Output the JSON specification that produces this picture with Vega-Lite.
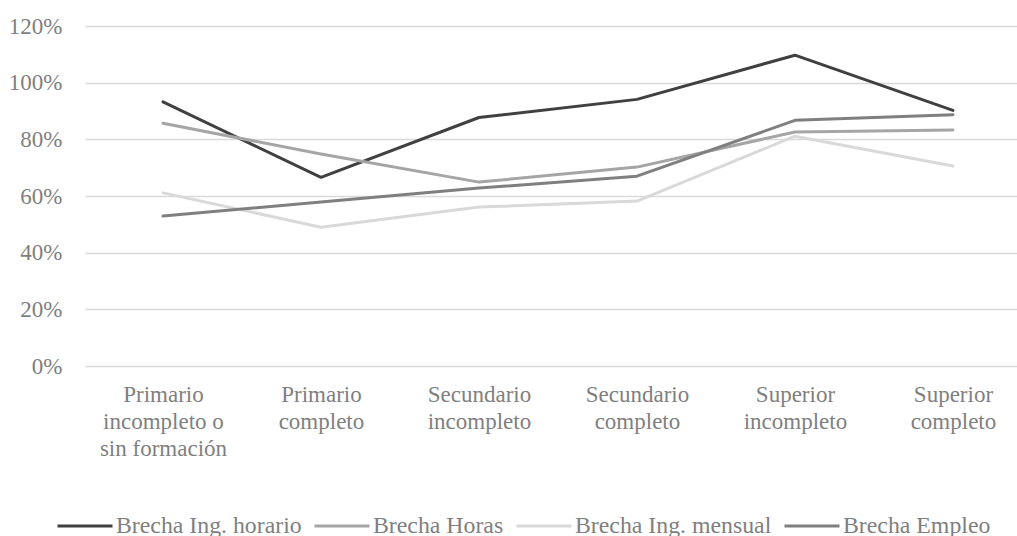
{
  "$schema": "https://vega.github.io/schema/vega-lite/v6.json",
  "width": 932,
  "height": 340,
  "autosize": {"type": "none"},
  "padding": {"left": 85, "top": 26, "right": 0, "bottom": 170},
  "background": "white",
  "config": {
    "view": {"stroke": null},
    "font": "Liberation Serif",
    "axis": {"labelFont": "Liberation Serif", "labelColor": "#7f7f7f", "labelFontSize": 23}
  },
  "data": {
    "values": [
      {"nivel": "Primario incompleto o sin formación", "serie": "Brecha Ing. horario", "valor": 0.932},
      {"nivel": "Primario completo", "serie": "Brecha Ing. horario", "valor": 0.666},
      {"nivel": "Secundario incompleto", "serie": "Brecha Ing. horario", "valor": 0.877},
      {"nivel": "Secundario completo", "serie": "Brecha Ing. horario", "valor": 0.941},
      {"nivel": "Superior incompleto", "serie": "Brecha Ing. horario", "valor": 1.097},
      {"nivel": "Superior completo", "serie": "Brecha Ing. horario", "valor": 0.902},
      {"nivel": "Primario incompleto o sin formación", "serie": "Brecha Horas", "valor": 0.857},
      {"nivel": "Primario completo", "serie": "Brecha Horas", "valor": 0.748},
      {"nivel": "Secundario incompleto", "serie": "Brecha Horas", "valor": 0.649},
      {"nivel": "Secundario completo", "serie": "Brecha Horas", "valor": 0.702},
      {"nivel": "Superior incompleto", "serie": "Brecha Horas", "valor": 0.826},
      {"nivel": "Superior completo", "serie": "Brecha Horas", "valor": 0.833},
      {"nivel": "Primario incompleto o sin formación", "serie": "Brecha Ing. mensual", "valor": 0.611},
      {"nivel": "Primario completo", "serie": "Brecha Ing. mensual", "valor": 0.490},
      {"nivel": "Secundario incompleto", "serie": "Brecha Ing. mensual", "valor": 0.561},
      {"nivel": "Secundario completo", "serie": "Brecha Ing. mensual", "valor": 0.582},
      {"nivel": "Superior incompleto", "serie": "Brecha Ing. mensual", "valor": 0.811},
      {"nivel": "Superior completo", "serie": "Brecha Ing. mensual", "valor": 0.706},
      {"nivel": "Primario incompleto o sin formación", "serie": "Brecha Empleo", "valor": 0.529},
      {"nivel": "Primario completo", "serie": "Brecha Empleo", "valor": 0.579},
      {"nivel": "Secundario incompleto", "serie": "Brecha Empleo", "valor": 0.628},
      {"nivel": "Secundario completo", "serie": "Brecha Empleo", "valor": 0.670},
      {"nivel": "Superior incompleto", "serie": "Brecha Empleo", "valor": 0.867},
      {"nivel": "Superior completo", "serie": "Brecha Empleo", "valor": 0.887}
    ]
  },
  "mark": {"type": "line", "strokeWidth": 3, "strokeCap": "round", "strokeJoin": "round"},
  "encoding": {
    "x": {
      "field": "nivel",
      "type": "nominal",
      "sort": null,
      "scale": {"type": "point", "padding": 0.4494, "align": 0.549},
      "axis": {
        "title": null,
        "domain": false,
        "ticks": false,
        "labelAngle": 0,
        "labelPadding": 17,
        "labelLineHeight": 27,
        "labelBaseline": "top",
        "labelExpr": "datum.label == 'Primario incompleto o sin formación' ? ['Primario', 'incompleto o', 'sin formación'] : split(datum.label, ' ')"
      }
    },
    "y": {
      "field": "valor",
      "type": "quantitative",
      "scale": {"domain": [0, 1.2], "nice": false},
      "axis": {
        "title": null,
        "format": ".0%",
        "values": [0, 0.2, 0.4, 0.6, 0.8, 1.0, 1.2],
        "domain": false,
        "ticks": false,
        "labelPadding": 23,
        "gridColor": "#d9d9d9",
        "gridWidth": 1.5
      }
    },
    "color": {
      "field": "serie",
      "type": "nominal",
      "sort": ["Brecha Ing. horario", "Brecha Horas", "Brecha Ing. mensual", "Brecha Empleo"],
      "scale": {
        "domain": ["Brecha Ing. horario", "Brecha Horas", "Brecha Ing. mensual", "Brecha Empleo"],
        "range": ["#404040", "#a5a5a5", "#d9d9d9", "#7f7f7f"]
      },
      "legend": {
        "title": null,
        "orient": "none",
        "direction": "horizontal",
        "legendX": -29,
        "legendY": 471,
        "symbolType": "stroke",
        "symbolSize": 3025,
        "symbolStrokeWidth": 3,
        "labelFont": "Liberation Serif",
        "labelFontSize": 23.8,
        "labelColor": "#7f7f7f",
        "labelOffset": 2,
        "columnPadding": 6,
        "padding": 0,
        "labelLimit": 400
      }
    }
  }
}
